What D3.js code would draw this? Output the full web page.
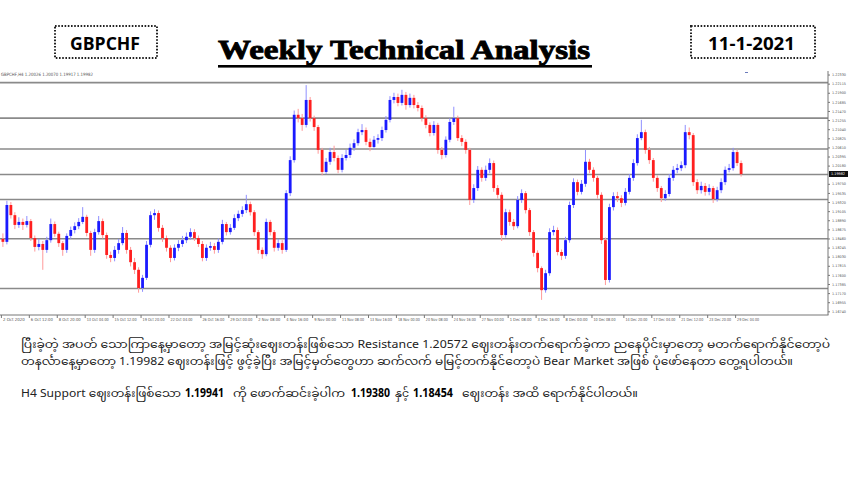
<!DOCTYPE html>
<html><head><meta charset="utf-8">
<script src="https://cdn.jsdelivr.net/npm/d3@7"></script>
<style>
html,body{margin:0;padding:0;background:#fff;}
svg{display:block;}
</style></head>
<body>
<svg id="c" width="850" height="478"></svg>
<script>
// ---------- DATA ----------
const symbolLabel = "GBPCHF";
const dateLabel = "11-1-2021";
const titleText = "Weekly Technical Analysis";
const chartHeader = "GBPCHF,H4  1.20026 1.20070 1.19917 1.19982";
const firstOpen = 1.1845;
const closes = [
1.1838,1.1925,1.1901,1.1878,1.1885,1.1878,1.1887,1.1847,1.1826,1.1833,
1.1819,1.1842,1.1880,1.1857,1.1835,1.1819,1.1852,1.1866,1.1875,1.1885,
1.1897,1.1859,1.1819,1.1861,1.1887,1.1854,1.1807,1.1800,1.1819,1.1835,
1.1859,1.1819,1.1790,1.1772,1.1729,1.1753,1.1831,1.1901,1.1906,1.1871,
1.1847,1.1824,1.1800,1.1824,1.1833,1.1842,1.1850,1.1861,1.1847,1.1833,
1.1800,1.1824,1.1828,1.1819,1.1838,1.1880,1.1861,1.1871,1.1894,1.1904,
1.1913,1.1927,1.1908,1.1861,1.1819,1.1809,1.1885,1.1861,1.1824,1.1835,
1.1819,1.1953,1.2031,1.2138,1.2130,1.2114,1.2173,1.2130,1.2109,1.2055,
1.2003,1.2027,1.2050,1.2036,1.2008,1.2036,1.2043,1.2060,1.2071,1.2097,
1.2102,1.2074,1.2062,1.2079,1.2083,1.2102,1.2126,1.2173,1.2180,1.2166,
1.2185,1.2161,1.2178,1.2161,1.2154,1.2130,1.2114,1.2095,1.2114,1.2055,
1.2043,1.2079,1.2121,1.2130,1.2083,1.2074,1.2055,1.1937,1.1965,1.2008,
1.1989,1.2008,1.2024,1.1965,1.1949,1.1854,1.1908,1.1885,1.1875,1.1937,
1.1953,1.1913,1.1861,1.1812,1.1776,1.1724,1.1764,1.1861,1.1866,1.1814,
1.1805,1.1842,1.1925,1.1979,1.1956,1.1975,1.2027,1.2008,1.1989,1.1949,
1.1842,1.1748,1.1920,1.1946,1.1941,1.1930,1.1956,1.1989,1.2024,1.2083,
1.2097,1.2055,1.2031,1.1989,1.1965,1.1941,1.1951,1.1989,1.2008,1.2012,
1.2019,1.2097,1.2090,1.1979,1.1960,1.1970,1.1956,1.1965,1.1939,1.1960,
1.1979,1.2008,1.2012,1.2050,1.2024,1.1998];
const highs = [
1.1858,1.1935,1.1932,1.1908,1.1896,1.1893,1.1899,1.1892,1.1853,1.1845,
1.1840,1.1850,1.1893,1.1886,1.1862,1.1840,1.1858,1.1874,1.1884,1.1894,
1.1920,1.1902,1.1864,1.1869,1.1899,1.1893,1.1860,1.1815,1.1828,1.1845,
1.1873,1.1866,1.1826,1.1800,1.1778,1.1760,1.1840,1.1910,1.1915,1.1912,
1.1878,1.1853,1.1830,1.1832,1.1842,1.1852,1.1860,1.1870,1.1868,1.1853,
1.1840,1.1832,1.1838,1.1835,1.1846,1.1890,1.1885,1.1880,1.1903,1.1912,
1.1922,1.1949,1.1933,1.1913,1.1866,1.1825,1.1893,1.1890,1.1866,1.1845,
1.1842,1.1960,1.2040,1.2148,1.2152,1.2140,1.2208,1.2180,1.2136,1.2114,
1.2060,1.2036,1.2060,1.2065,1.2042,1.2045,1.2055,1.2070,1.2080,1.2105,
1.2116,1.2108,1.2082,1.2088,1.2092,1.2110,1.2135,1.2182,1.2190,1.2188,
1.2197,1.2192,1.2188,1.2185,1.2168,1.2160,1.2137,1.2120,1.2123,1.2119,
1.2062,1.2087,1.2130,1.2157,1.2136,1.2090,1.2080,1.2060,1.1974,1.2017,
1.2014,1.2018,1.2035,1.2030,1.1972,1.1955,1.1916,1.1914,1.1892,1.1946,
1.1962,1.1958,1.1918,1.1866,1.1818,1.1780,1.1772,1.1870,1.1876,1.1872,
1.1820,1.1850,1.1933,1.1988,1.1985,1.1984,1.2055,1.2034,1.2014,1.1994,
1.1955,1.1848,1.1928,1.1955,1.1956,1.1948,1.1965,1.1998,1.2033,1.2092,
1.2126,1.2103,1.2062,1.2036,1.1995,1.1970,1.1960,1.1998,1.2017,1.2022,
1.2028,1.2114,1.2108,1.2095,1.1986,1.1980,1.1977,1.1974,1.1970,1.1968,
1.1988,1.2016,1.2022,1.2060,1.2056,1.2030];
const lows = [
1.1826,1.1832,1.1893,1.1868,1.1871,1.1866,1.1872,1.1840,1.1815,1.1818,
1.1772,1.1812,1.1836,1.1850,1.1826,1.1805,1.1812,1.1845,1.1858,1.1868,
1.1880,1.1851,1.1805,1.1812,1.1855,1.1846,1.1798,1.1790,1.1792,1.1810,
1.1830,1.1810,1.1780,1.1762,1.1718,1.1720,1.1748,1.1825,1.1890,1.1862,
1.1838,1.1815,1.1790,1.1794,1.1816,1.1826,1.1835,1.1843,1.1840,1.1826,
1.1792,1.1793,1.1817,1.1810,1.1812,1.1832,1.1853,1.1855,1.1866,1.1887,
1.1897,1.1906,1.1900,1.1852,1.1810,1.1798,1.1804,1.1853,1.1815,1.1817,
1.1810,1.1814,1.1946,1.2025,1.2120,1.2100,1.2108,1.2122,1.2100,1.2046,
1.1995,1.1998,1.2020,1.2028,1.2000,1.2002,1.2030,1.2036,1.2053,1.2065,
1.2090,1.2066,1.2052,1.2055,1.2070,1.2076,1.2096,1.2120,1.2165,1.2158,
1.2160,1.2150,1.2155,1.2153,1.2146,1.2122,1.2106,1.2087,1.2089,1.2046,
1.2033,1.2037,1.2073,1.2114,1.2076,1.2064,1.2046,1.1925,1.1930,1.1958,
1.1980,1.1982,1.2000,1.1956,1.1940,1.1840,1.1848,1.1876,1.1866,1.1870,
1.1930,1.1905,1.1852,1.1803,1.1766,1.1701,1.1718,1.1758,1.1853,1.1806,
1.1795,1.1798,1.1836,1.1918,1.1948,1.1950,1.1968,1.2000,1.1980,1.1940,
1.1833,1.1736,1.1742,1.1912,1.1932,1.1920,1.1924,1.1950,1.1982,1.2018,
1.2078,1.2046,1.2022,1.1980,1.1956,1.1932,1.1935,1.1945,1.1982,1.2000,
1.2005,1.2012,1.2080,1.1970,1.1951,1.1952,1.1947,1.1948,1.1930,1.1933,
1.1953,1.1972,1.2002,1.2006,1.2017,1.1992];
const levelLines = [1.2214, 1.2130, 1.20572, 1.1997, 1.19380, 1.18454, 1.1728];
const priceTicks = [1.22330,1.22115,1.21900,1.21685,1.21470,1.21255,1.21040,1.20825,1.20610,1.20395,1.20180,
  1.19750,1.19535,1.19320,1.19105,1.18890,1.18675,1.18460,1.18245,1.18030,1.17815,1.17600,1.17385,1.17170,1.16955,1.16740];
const currentPrice = 1.19982;
const timeTickIndex = [0,7,14,21,28,35,42,50,57,64,71,78,85,92,99,106,113,120,127,134,141,148,156,163,170,177,184];
const timeTickLabels = ["2 Oct 2020","6 Oct 12:00","8 Oct 20:00","13 Oct 04:00","15 Oct 12:00","19 Oct 20:00","22 Oct 04:00",
  "26 Oct 16:00","29 Oct 00:00","2 Nov 08:00","4 Nov 16:00","9 Nov 00:00","11 Nov 08:00","13 Nov 16:00","18 Nov 00:00",
  "20 Nov 08:00","24 Nov 16:00","27 Nov 00:00","1 Dec 08:00","3 Dec 16:00","8 Dec 00:00","10 Dec 08:00","14 Dec 20:00",
  "17 Dec 04:00","21 Dec 12:00","23 Dec 20:00","29 Dec 04:00"];
const para1 = "ပြီးခဲ့တဲ့ အပတ် သောကြာနေ့မှာတော့ အမြင့်ဆုံးဈေးတန်းဖြစ်သော Resistance 1.20572 ဈေးတန်းတက်ရောက်ခဲ့ကာ ညနေပိုင်းမှာတော့ မတက်ရောက်နိုင်တော့ပဲ";
const para2 = "တနင်္လာနေ့မှာတော့ 1.19982 ဈေးတန်းဖြင့် ဖွင့်ခဲ့ပြီး အမြင့်မှတ်တွေဟာ ဆက်လက် မမြင့်တက်နိုင်တော့ပဲ Bear Market အဖြစ် ပုံဖော်နေတာ တွေ့ရပါတယ်။";
const para3 = [
  {t:"H4 Support ဈေးတန်းဖြစ်သော", b:false},
  {t:"1.19941", b:true},
  {t:"ကို ဖောက်ဆင်းခဲ့ပါက", b:false},
  {t:"1.19380", b:true},
  {t:"နှင့်", b:false},
  {t:"1.18454", b:true},
  {t:"ဈေးတန်း အထိ ရောက်နိုင်ပါတယ်။", b:false}
];

// ---------- BUILD ----------
const candles = closes.map((c,i)=>({i, o: i===0 ? firstOpen : closes[i-1], c, h: highs[i], l: lows[i]}));
const svg = d3.select("#c");
const plot = {left:0, right:828, top:72, bottom:315};

const y = d3.scaleLinear().domain([1.16653, 1.22390]).range([plot.bottom, plot.top]);
const x = d3.scaleBand().domain(d3.range(closes.length)).range([0, 744]).padding(0.45);

// header boxes
function box(x0,y0,w,h,txt,tx,tl){
  svg.append("rect").attr("x",x0).attr("y",y0).attr("width",w).attr("height",h)
    .attr("fill","none").attr("stroke","#222").attr("stroke-width",2).attr("stroke-dasharray","1.6,1.6");
  svg.append("text").attr("x",tx).attr("y",y0+24).attr("font-family","'Open Sans',Lato,sans-serif")
    .attr("font-weight",700).attr("font-size",17).attr("fill","#000")
    .attr("textLength",tl).attr("lengthAdjust","spacingAndGlyphs").text(txt);
}
box(55,26,102,32,symbolLabel,70,70);
box(691,26,124,32,dateLabel,708,87);

// title
svg.append("text").attr("x",218).attr("y",58.5)
  .attr("font-family","'Liberation Serif','DejaVu Serif',serif").attr("font-weight",900)
  .attr("font-size",28).attr("fill","#000").attr("stroke","#000").attr("stroke-width",0.9)
  .attr("textLength",372).attr("lengthAdjust","spacingAndGlyphs").text(titleText);
svg.append("rect").attr("x",218).attr("y",65).attr("width",374).attr("height",2.6).attr("fill","#000");

// chart header text
svg.append("text").attr("x",1).attr("y",75.5).attr("font-family","'DejaVu Sans',sans-serif")
  .attr("font-size",4.5).attr("fill","#555").attr("textLength",92).attr("lengthAdjust","spacingAndGlyphs").text(chartHeader);
svg.append("line").attr("x1",745).attr("x2",748).attr("y1",72.5).attr("y2",72.5).attr("stroke","#6b7bbb").attr("stroke-width",1);

// level lines
svg.append("g").selectAll("line").data(levelLines).join("line")
  .attr("x1",plot.left).attr("x2",plot.right)
  .attr("y1",d=>y(d)).attr("y2",d=>y(d))
  .attr("stroke","#8a8a8a").attr("stroke-width",1.6);

// candles
const g = svg.append("g");
const col = d => d.c >= d.o ? "#1a1aff" : "#ff1f1f";
g.selectAll("line.w").data(candles).join("line").attr("class","w")
  .attr("x1",d=>x(d.i)+x.bandwidth()/2).attr("x2",d=>x(d.i)+x.bandwidth()/2)
  .attr("y1",d=>y(d.h)).attr("y2",d=>y(d.l))
  .attr("stroke",d=>d.c>=d.o ? "#8f8fff" : "#ff9a9a").attr("stroke-width",1);
g.selectAll("rect.b").data(candles).join("rect").attr("class","b")
  .attr("x",d=>x(d.i)-0.3).attr("width",x.bandwidth()+0.6)
  .attr("y",d=>y(Math.max(d.o,d.c)))
  .attr("height",d=>Math.max(1,Math.abs(y(d.o)-y(d.c))))
  .attr("fill",col);

// frame
svg.append("line").attr("x1",0).attr("x2",plot.right+0.5).attr("y1",plot.bottom).attr("y2",plot.bottom).attr("stroke","#777").attr("stroke-width",1);
svg.append("line").attr("x1",plot.right).attr("x2",plot.right).attr("y1",plot.top-1).attr("y2",plot.bottom).attr("stroke","#777").attr("stroke-width",1);

// right price axis
const ya = svg.append("g").attr("transform",`translate(${plot.right},0)`)
  .call(d3.axisRight(y).tickValues(priceTicks).tickSize(2).tickPadding(2).tickFormat(d3.format(".5f")));
ya.select(".domain").remove();
ya.selectAll("line").attr("stroke","#777");
ya.selectAll("text").attr("font-family","'DejaVu Sans',sans-serif").attr("font-size",3.6).attr("fill","#555")
  .attr("textLength",14).attr("lengthAdjust","spacingAndGlyphs");
// current price marker
svg.append("rect").attr("x",plot.right+1).attr("y",y(currentPrice)-3).attr("width",19).attr("height",6).attr("fill","#111");
svg.append("text").attr("x",plot.right+3).attr("y",y(currentPrice)+1.4).attr("font-family","'DejaVu Sans',sans-serif")
  .attr("font-size",3.6).attr("fill","#fff").attr("textLength",14).attr("lengthAdjust","spacingAndGlyphs").text(d3.format(".5f")(currentPrice));

// bottom time axis
const xa = svg.append("g").attr("transform",`translate(0,${plot.bottom})`)
  .call(d3.axisBottom(x).tickValues(timeTickIndex).tickSize(3).tickPadding(1).tickFormat((d,k)=>timeTickLabels[k]));
xa.select(".domain").remove();
xa.selectAll("line").attr("stroke","#777").attr("transform","translate(-1.5,0)");
xa.selectAll("text").attr("text-anchor","start").attr("dx",0).attr("y",3)
  .attr("font-family","'DejaVu Sans',sans-serif").attr("font-size",4.2).attr("fill","#555")
  .attr("textLength",22).attr("lengthAdjust","spacingAndGlyphs");

// paragraph text
const ff = "'Noto Sans Myanmar','Myanmar Text','Padauk','Noto Sans',sans-serif";
svg.append("text").attr("x",21).attr("y",347.5).attr("font-family",ff).attr("font-size",11).attr("fill","#222")
  .attr("textLength",809).attr("lengthAdjust","spacingAndGlyphs").text(para1);
svg.append("text").attr("x",21).attr("y",365).attr("font-family",ff).attr("font-size",11).attr("fill","#222")
  .attr("textLength",772).attr("lengthAdjust","spacingAndGlyphs").text(para2);
const p3x = [21,185,233,351,395,413,462];
const p3len = [160,39,112,39,14,40,176];
svg.append("g").selectAll("text").data(para3).join("text")
  .attr("x",(d,k)=>p3x[k]).attr("y",396.5)
  .attr("font-family",ff).attr("font-size",11.5)
  .attr("font-weight",d=>d.b?700:400).attr("fill",d=>d.b?"#000":"#222")
  .attr("textLength",(d,k)=>p3len[k]).attr("lengthAdjust","spacingAndGlyphs")
  .text(d=>d.t);
</script>
</body></html>
